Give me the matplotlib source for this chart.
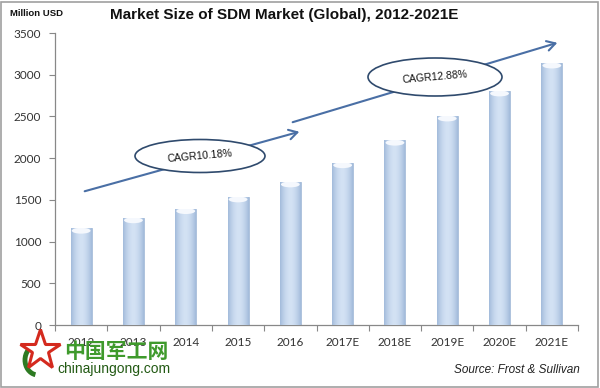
import matplotlib
matplotlib.use("Agg")
import matplotlib.pyplot as plt
import numpy as np
from matplotlib.patches import Ellipse, FancyArrowPatch, Rectangle, Arc
from matplotlib.colors import LinearSegmentedColormap

years = ["2012", "2013", "2014", "2015", "2016", "2017E", "2018E", "2019E", "2020E", "2021E"]
values = [1160, 1285, 1395, 1535, 1715, 1945, 2215, 2505, 2805, 3140]
yticks = [0, 500, 1000, 1500, 2000, 2500, 3000, 3500]
cagr_labels = ["CAGR10.18%", "CAGR12.88%"]

W, H = 600, 388
fig = plt.figure(figsize=(W / 100, H / 100), dpi=100)
fig.patch.set_facecolor("white")

def fx(px):
    return px / W

def fy(py):
    return 1 - py / H

ax = fig.add_axes([fx(55), fy(325), fx(578) - fx(55), fy(33) - fy(325)])
x = np.arange(len(years))
bw = 0.4
bars = ax.bar(x, values, width=bw, color="#c8daf0", edgecolor="#a6bcd8", linewidth=0.6, zorder=2)

grad = np.linspace(-1, 1, 64)
prof = 1 - np.abs(grad) ** 1.8
cmap = LinearSegmentedColormap.from_list("cyl", ["#a3bbdb", "#d3e2f4"])
for b in bars:
    x0, w, h = b.get_x(), b.get_width(), b.get_height()
    im = ax.imshow(prof[None, :], cmap=cmap, aspect="auto",
                   extent=[x0, x0 + w, 0, h], zorder=3, vmin=0, vmax=1)
    im.set_clip_path(b)
    cap = Ellipse((x0 + w / 2, h - 30), w * 0.9, 70, facecolor="#f5f8fd",
                  edgecolor="none", zorder=4)
    ax.add_patch(cap)
    cap.set_clip_path(b)

ax.set_xlim(-0.5, len(years) - 0.5)
ax.set_ylim(0, 3500)
ax.set_yticks(yticks)
ax.set_yticklabels([str(v) for v in yticks], fontsize=8.5, color="#333333", family="Lato")
ax.set_xticks(np.arange(-0.5, len(years), 1.0))
ax.set_xticklabels([])
ax.set_xticks(x, minor=True)
ax.set_xticklabels(years, minor=True, fontsize=8.5, color="#333333", family="Lato")
ax.tick_params(axis="x", which="minor", length=0, pad=9)
ax.tick_params(axis="x", which="major", length=4, color="#888888", direction="out")
ax.tick_params(axis="y", length=4, color="#888888", direction="out", pad=6)
for s in ["top", "right"]:
    ax.spines[s].set_visible(False)
for s in ["left", "bottom"]:
    ax.spines[s].set_color("#888888")
    ax.spines[s].set_linewidth(0.9)

fig.add_artist(Rectangle((0.002, 0.003), 0.995, 0.993, transform=fig.transFigure,
                         fill=False, edgecolor="#a0a0a0", linewidth=1.2))

fig.text(fx(10), fy(14), "Million USD", fontsize=6.8, fontweight="bold", family="Liberation Sans",
         va="center", ha="left", color="#111111")
fig.text(fx(110), fy(15), "Market Size of SDM Market (Global), 2012-2021E", fontsize=11,
         fontweight="bold", family="Liberation Sans", va="center", ha="left", color="#111111")
fig.text(fx(580), fy(370), "Source: Frost & Sullivan", fontsize=8.5, style="italic",
         family="Liberation Sans", ha="right", va="center", color="#222222")

arrow_col = "#4a6fa5"
for (x1, y1, x2, y2) in [(82, 192, 302, 131), (290, 123, 560, 42)]:
    a = FancyArrowPatch((fx(x1), fy(y1)), (fx(x2), fy(y2)), transform=fig.transFigure,
                        arrowstyle="->,head_length=6,head_width=3.5", color=arrow_col,
                        linewidth=1.5, mutation_scale=1)
    fig.add_artist(a)
for (cx, cy, ew, eh), lab in zip([(200, 156, 130, 33), (435, 77, 134, 38)], cagr_labels):
    e = Ellipse((fx(cx), fy(cy)), fx(ew), eh / H, transform=fig.transFigure,
                facecolor="white", edgecolor="#2f4a6d", linewidth=1.2)
    fig.add_artist(e)
    fig.text(fx(cx), fy(cy), lab, fontsize=7.5, family="Liberation Sans", rotation=5,
             ha="center", va="center", color="#111111")

# watermark logo
logo_ax = fig.add_axes([0, 0, 1, 1], facecolor="none")
logo_ax.set_xlim(0, W)
logo_ax.set_ylim(H, 0)
logo_ax.axis("off")
logo_ax.plot([40], [350], marker="*", markersize=30, markerfacecolor="white",
             markeredgecolor="#d42a1e", markeredgewidth=2.2)
logo_ax.add_patch(Arc((38, 360), 26, 30, angle=0, theta1=100, theta2=260,
                      color="#2d7a22", linewidth=3.5))
fig.text(fx(64), fy(351), "中国军工网", fontsize=15, fontweight="bold",
         family=["Noto Sans CJK SC", "DejaVu Sans"], color="#3f9a2c", ha="left", va="center")
fig.text(fx(57), fy(369), "chinajungong.com", fontsize=10, family="Liberation Sans",
         color="#235a14", ha="left", va="center")

fig.savefig("out.png", dpi=100)
